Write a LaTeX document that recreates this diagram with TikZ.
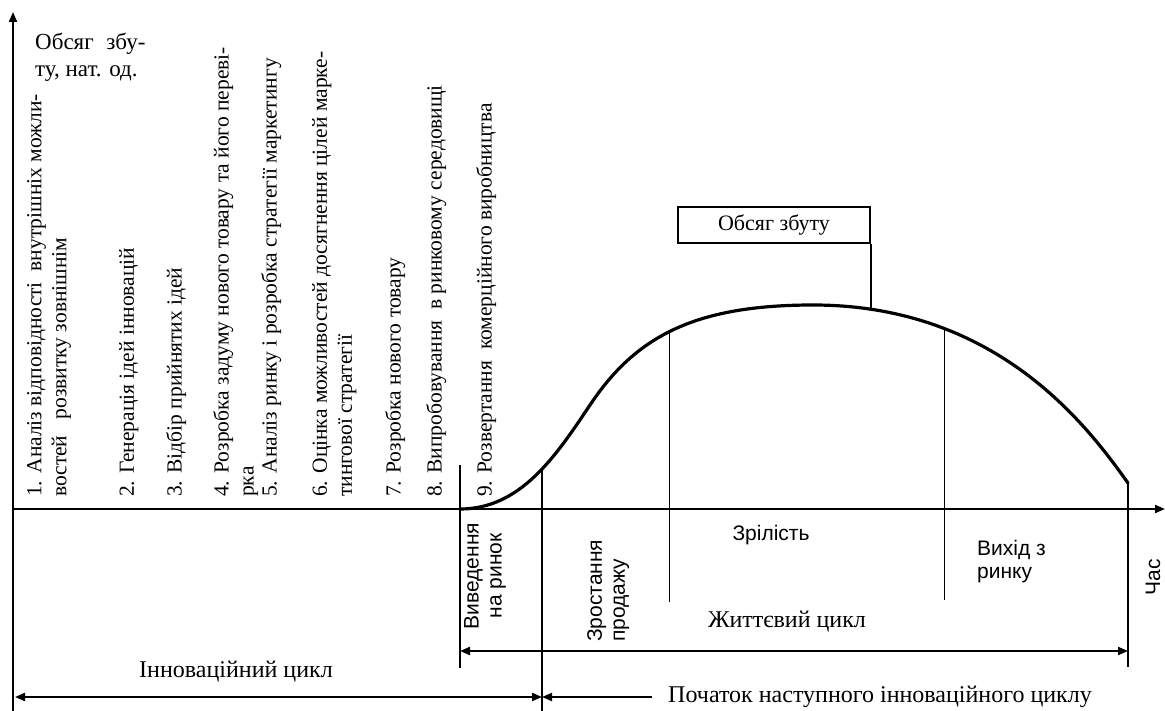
\documentclass[tikz,border=0pt]{standalone}
\usepackage{fontspec}
\setmainfont{Liberation Serif}
\setsansfont{Liberation Sans}
\usetikzlibrary{arrows.meta}
\begin{document}
\begin{tikzpicture}[x=1pt,y=-1pt,
  axisline/.style={line width=2pt},
  thinline/.style={line width=1.3pt},
  curveline/.style={line width=3.2pt, line cap=round},
  tipend/.style={-{Triangle[length=10pt,width=8pt]}},
  tipboth/.style={{Triangle[length=10pt,width=8pt]}-{Triangle[length=10pt,width=8pt]}},
  stagetext/.style={rotate=90, anchor=north west, inner sep=0pt, align=left, font=\fontsize{21.5}{25}\selectfont},
  serlabel/.style={inner sep=0pt, font=\fontsize{24}{27}\selectfont},
  sanslabel/.style={inner sep=0pt, font=\sffamily\fontsize{21}{23}\selectfont},
  volbox/.style={draw, line width=1.5pt, minimum width=192pt, minimum height=36pt, inner sep=0pt, font=\fontsize{22}{25}\selectfont}
]
\useasboundingbox (0,0) rectangle (1165,711);

% axes
\coordinate (ybot) at (13,711);
\coordinate (ytop) at (13,12);
\coordinate (xorig) at (13,509);
\coordinate (xend) at (1165,509);
\draw[axisline,tipend] (ybot) -- (ytop);
\draw[axisline,tipend] (xorig) -- (xend);

% y-axis label
\node[inner sep=0pt, font=\fontsize{23}{27}\selectfont, anchor=north west, align=left] (ylab) at (35,33) {Обсяг\hspace{0.55em}збу-\\ту, нат. од.};

% stages
\node[stagetext] (s1) at (27,497) {1. Аналіз відповідності\ \ внутрішніх можли-\\востей\ \ \ розвитку зовнішнім};
\node[stagetext] (s2) at (119,497) {2. Генерація ідей інновацій};
\node[stagetext] (s3) at (166,497) {3. Відбір прийнятих ідей};
\node[stagetext] (s4) at (213,497) {4. Розробка задуму нового товару та його переві-\\рка};
\node[stagetext] (s5) at (261,497) {5. Аналіз ринку і розробка стратегії маркетингу};
\node[stagetext] (s6) at (312,497) {6. Оцінка можливостей досягнення цілей марке-\\тингової стратегії};
\node[stagetext] (s7) at (385,497) {7. Розробка нового товару};
\node[stagetext] (s8) at (426,497) {8. Випробовування\ \ в ринковому середовищі};
\node[stagetext] (s9) at (476,497) {9. Розвертання\ \ комерційного виробництва};

% sales curve
\coordinate (p0) at (460,509);
\coordinate (pi) at (590,405);
\coordinate (pk) at (813,305);
\coordinate (p5) at (1128,483);
\draw[curveline] (p0) .. controls (520,509) and (555,457.5) .. (pi) coordinate[pos=0.56] (p1)
  .. controls (635,337.5) and (693,305) .. (pk) coordinate[pos=0.48] (p2)
  .. controls (1000,305) and (1090,430) .. (p5) coordinate[pos=0.11] (p3) coordinate[pos=0.27] (p4);

% volume box
\node[volbox] (vbox) at (774,225) {Обсяг збуту};
\draw[line width=1.5pt] (vbox.south east) -- (vbox.south east |- p3);

% vertical lines
\coordinate (v1t) at (460,465);
\coordinate (v1b) at (460,668);
\coordinate (v2b) at (542,711);
\coordinate (v3b) at (669,602);
\coordinate (v4b) at (944,600);
\coordinate (v5b) at (1128,667);
\draw[axisline] (v1t) -- (v1b);
\draw[axisline] (p1) -- (p1 |- v2b);
\draw[thinline] (p2) -- (p2 |- v3b);
\draw[thinline] (p4) -- (p4 |- v4b);
\draw[axisline] (p5) -- (v5b);

% phase labels
\node[sanslabel, rotate=90, align=center] (intro) at (485,576) {Виведення\\на ринок};
\node[sanslabel, rotate=90, anchor=north west, align=left] (growth) at (587,642) {Зростання\\продажу};
\node[sanslabel] (mature) at (771,535) {Зрілість};
\node[sanslabel, anchor=north west, align=left] (exit) at (977,540) {Вихід з\\ринку};
\node[sanslabel, rotate=90] (time) at (1153,577) {Час};

% cycle arrows
\coordinate (la) at (460,651);
\coordinate (lb) at (1128,651);
\draw[axisline,tipboth] (la) -- (lb);
\node[serlabel] (life) at (787,622) {Життєвий цикл};

\coordinate (ia) at (15,697);
\coordinate (ib) at (542,697);
\draw[axisline,tipboth] (ia) -- (ib);
\node[serlabel] (innov) at (236,672) {Інноваційний цикл};

\coordinate (na) at (652,697);
\draw[axisline,tipend] (na) -- (ib);
\node[serlabel, anchor=west] (next) at (668,697) {Початок наступного інноваційного циклу};
\end{tikzpicture}
\end{document}
